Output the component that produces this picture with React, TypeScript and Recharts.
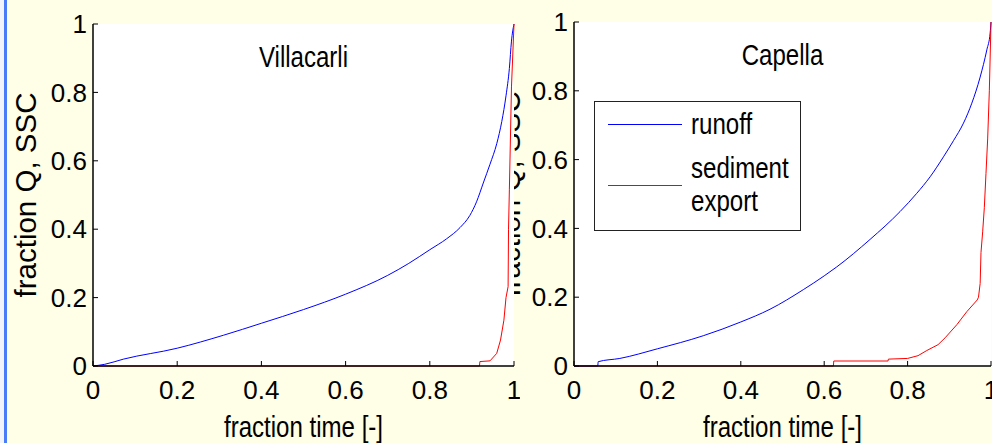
import { LineChart, Line, XAxis, YAxis, CartesianGrid, Legend } from "recharts";

const xTicks = [0, 0.2, 0.4, 0.6, 0.8, 1];
const yTicks = [0, 0.2, 0.4, 0.6, 0.8, 1];

// Villacarli
const villacarliRunoffTime = [0, 0.028, 0.072, 0.2, 0.31, 0.4, 0.5, 0.6, 0.7, 0.75, 0.8, 0.84, 0.872, 0.895, 0.911, 0.927, 0.943, 0.959, 0.971, 0.981, 0.989, 0.994, 1];
const villacarliRunoff = [0, 0.005, 0.02, 0.052, 0.09, 0.125, 0.165, 0.21, 0.265, 0.3, 0.34, 0.372, 0.405, 0.44, 0.48, 0.535, 0.59, 0.65, 0.715, 0.79, 0.87, 0.95, 1];
const villacarliSedTime = [0, 0.918, 0.919, 0.943, 0.959, 0.968, 0.976, 0.981, 0.986, 0.987, 0.989, 0.994, 1];
const villacarliSediment = [0, 0, 0.013, 0.015, 0.037, 0.076, 0.134, 0.2, 0.232, 0.4, 0.515, 0.816, 1];

// Capella
const capellaRunoffTime = [0, 0.057, 0.058, 0.11, 0.2, 0.31, 0.4, 0.47, 0.55, 0.6, 0.63, 0.71, 0.782, 0.822, 0.854, 0.886, 0.91, 0.934, 0.954, 0.974, 0.99, 0.998, 1];
const capellaRunoff = [0, 0, 0.0125, 0.022, 0.05, 0.088, 0.128, 0.165, 0.222, 0.262, 0.288, 0.368, 0.449, 0.502, 0.55, 0.608, 0.655, 0.706, 0.764, 0.84, 0.919, 0.968, 1];
const capellaSedTime = [0, 0.622, 0.623, 0.753, 0.754, 0.8, 0.825, 0.846, 0.873, 0.89, 0.918, 0.942, 0.967, 0.97, 0.974, 0.976, 0.98, 0.984, 0.988, 0.992, 0.996, 1];
const capellaSediment = [0, 0, 0.0145, 0.0145, 0.02, 0.022, 0.03, 0.045, 0.062, 0.082, 0.12, 0.158, 0.192, 0.2, 0.24, 0.33, 0.39, 0.46, 0.56, 0.66, 0.8, 1];

const zip = (t: number[], v: number[]) => t.map((x, i) => ({ t: x, v: v[i] }));

const SANS = "'Liberation Sans', Arial, sans-serif";
const BG = "#fffee6";
const SQUEEZE = 0.83; // the source figure's text is horizontally condensed

const tickStyle = { fill: "#000", fontSize: 26, fontFamily: SANS };
const axisLine = { stroke: "#000", strokeWidth: 1.5 };

// horizontally condensed svg text, centred on cx with its baseline at by
function NarrowText({ cx, by, children }: { cx: number; by: number; children: string }) {
  return (
    <text
      transform={`translate(${cx} ${by}) scale(${SQUEEZE} 1)`}
      textAnchor="middle"
      fontSize={29}
      fontFamily={SANS}
      fill="#000"
    >
      {children}
    </text>
  );
}

function LegendBox({ payload }: { payload?: readonly { value?: string; color?: string }[] }) {
  return (
    <div
      style={{
        width: 207,
        height: 130,
        boxSizing: "border-box",
        border: "1.5px solid #222",
        background: "#fff",
        paddingTop: 6,
        paddingLeft: 13,
        display: "flex",
        flexDirection: "column",
        gap: 11,
        overflow: "visible",
      }}
    >
      {(payload ?? []).map((p) => (
        <div key={p.value} style={{ display: "flex", alignItems: "center", width: 240 }}>
          <span style={{ display: "inline-block", flexShrink: 0, width: 74, height: 1, background: p.color }} />
          <span
            style={{
              display: "inline-block",
              flexShrink: 0,
              marginLeft: 9,
              width: 125,
              fontFamily: SANS,
              fontSize: 29,
              lineHeight: "33px",
              color: "#000",
              transform: `scaleX(${SQUEEZE})`,
              transformOrigin: "left center",
            }}
          >
            {p.value}
          </span>
        </div>
      ))}
    </div>
  );
}

type PanelProps = {
  title: string;
  runoff: { t: number; v: number }[];
  sediment: { t: number; v: number }[];
  width: number;
  top: number;
  left: number;
  right: number;
  labelGap: number;
  legend?: boolean;
};

function Panel({ title, runoff, sediment, width, top, left, right, labelGap, legend }: PanelProps) {
  const plotW = width - left - 60 - right;
  const plotH = 443 - 77 - top;

  const renderYLabel = (props: any) => {
    const vb = props?.viewBox ?? { x: left, y: top, width: 60, height: plotH };
    const cx = vb.x + vb.width - labelGap;
    const cy = vb.y + vb.height / 2;
    return (
      <text
        x={cx}
        y={cy}
        dy="0.355em"
        transform={`rotate(-90 ${cx} ${cy})`}
        textAnchor="middle"
        fontSize={29.5}
        fontFamily={SANS}
        fill="#000"
      >
        fraction Q, SSC
      </text>
    );
  };

  // x-axis caption plus the panel title, which sits inside the top of the plot box
  const renderXLabel = (props: any) => {
    const vb = props?.viewBox ?? { x: left + 60, y: 443 - 77, width: plotW, height: 77 };
    const cx = vb.x + vb.width / 2;
    return (
      <g>
        <NarrowText cx={cx} by={vb.y + vb.height - 6}>fraction time [-]</NarrowText>
        <NarrowText cx={cx} by={top + 43}>{title}</NarrowText>
      </g>
    );
  };

  return (
    <LineChart width={width} height={443} margin={{ top, right, bottom: 0, left }}>
      <CartesianGrid fill="#fff" horizontal={false} vertical={false} stroke="none" />
      <XAxis
        dataKey="t"
        type="number"
        domain={[0, 1]}
        ticks={xTicks}
        height={77}
        tick={tickStyle}
        tickSize={-5}
        tickMargin={20}
        tickLine={{ stroke: "#000" }}
        axisLine={axisLine}
        interval={0}
        label={renderXLabel}
      />
      <XAxis
        xAxisId="top"
        orientation="top"
        type="number"
        domain={[0, 1]}
        ticks={xTicks}
        height={0}
        tickSize={-5}
        tickFormatter={() => ""}
        tickLine={{ stroke: "#000" }}
        axisLine={axisLine}
      />
      <YAxis
        type="number"
        domain={[0, 1]}
        ticks={yTicks}
        width={60}
        tick={tickStyle}
        tickSize={-5}
        tickMargin={11}
        tickLine={{ stroke: "#000" }}
        axisLine={axisLine}
        interval={0}
        label={renderYLabel}
      />
      <YAxis
        yAxisId="right"
        orientation="right"
        type="number"
        domain={[0, 1]}
        ticks={yTicks}
        width={0}
        tickSize={-5}
        tickFormatter={() => ""}
        tickLine={{ stroke: "#000" }}
        axisLine={axisLine}
      />
      <Line
        data={runoff}
        dataKey="v"
        name="runoff"
        type="monotone"
        stroke="#0000ff"
        strokeWidth={1}
        dot={false}
        activeDot={false}
        isAnimationActive={false}
      />
      <Line
        data={sediment}
        dataKey="v"
        name="sediment export"
        type="linear"
        stroke="#ff0000"
        strokeWidth={1}
        dot={false}
        activeDot={false}
        isAnimationActive={false}
      />
      {legend && (
        <Legend
          layout="horizontal"
          verticalAlign="middle"
          align="center"
          wrapperStyle={{ left: 114, top: 101, width: 207, height: 130 }}
          content={(p: any) => <LegendBox payload={p.payload} />}
        />
      )}
    </LineChart>
  );
}

export default function App() {
  return (
    <div style={{ position: "absolute", left: 0, top: 0, width: 992, height: 443, background: BG, overflow: "hidden" }}>
      <div style={{ position: "absolute", left: 0, top: 0, width: 4, height: 443, background: "#f1f4fa" }} />
      <div style={{ position: "absolute", left: 4, top: 0, width: 3, height: 443, background: "#4a7cf7" }} />
      <div style={{ position: "absolute", left: 480, top: 0 }}>
        <Panel
          title="Capella"
          runoff={zip(capellaRunoffTime, capellaRunoff)}
          sediment={zip(capellaSedTime, capellaSediment)}
          width={512}
          top={22}
          left={34}
          right={1}
          labelGap={64}
          legend
        />
      </div>
      <div style={{ position: "absolute", left: 0, top: 0 }}>
        <Panel
          title="Villacarli"
          runoff={zip(villacarliRunoffTime, villacarliRunoff)}
          sediment={zip(villacarliSedTime, villacarliSediment)}
          width={520}
          top={24}
          left={33}
          right={6}
          labelGap={67}
        />
      </div>
    </div>
  );
}
